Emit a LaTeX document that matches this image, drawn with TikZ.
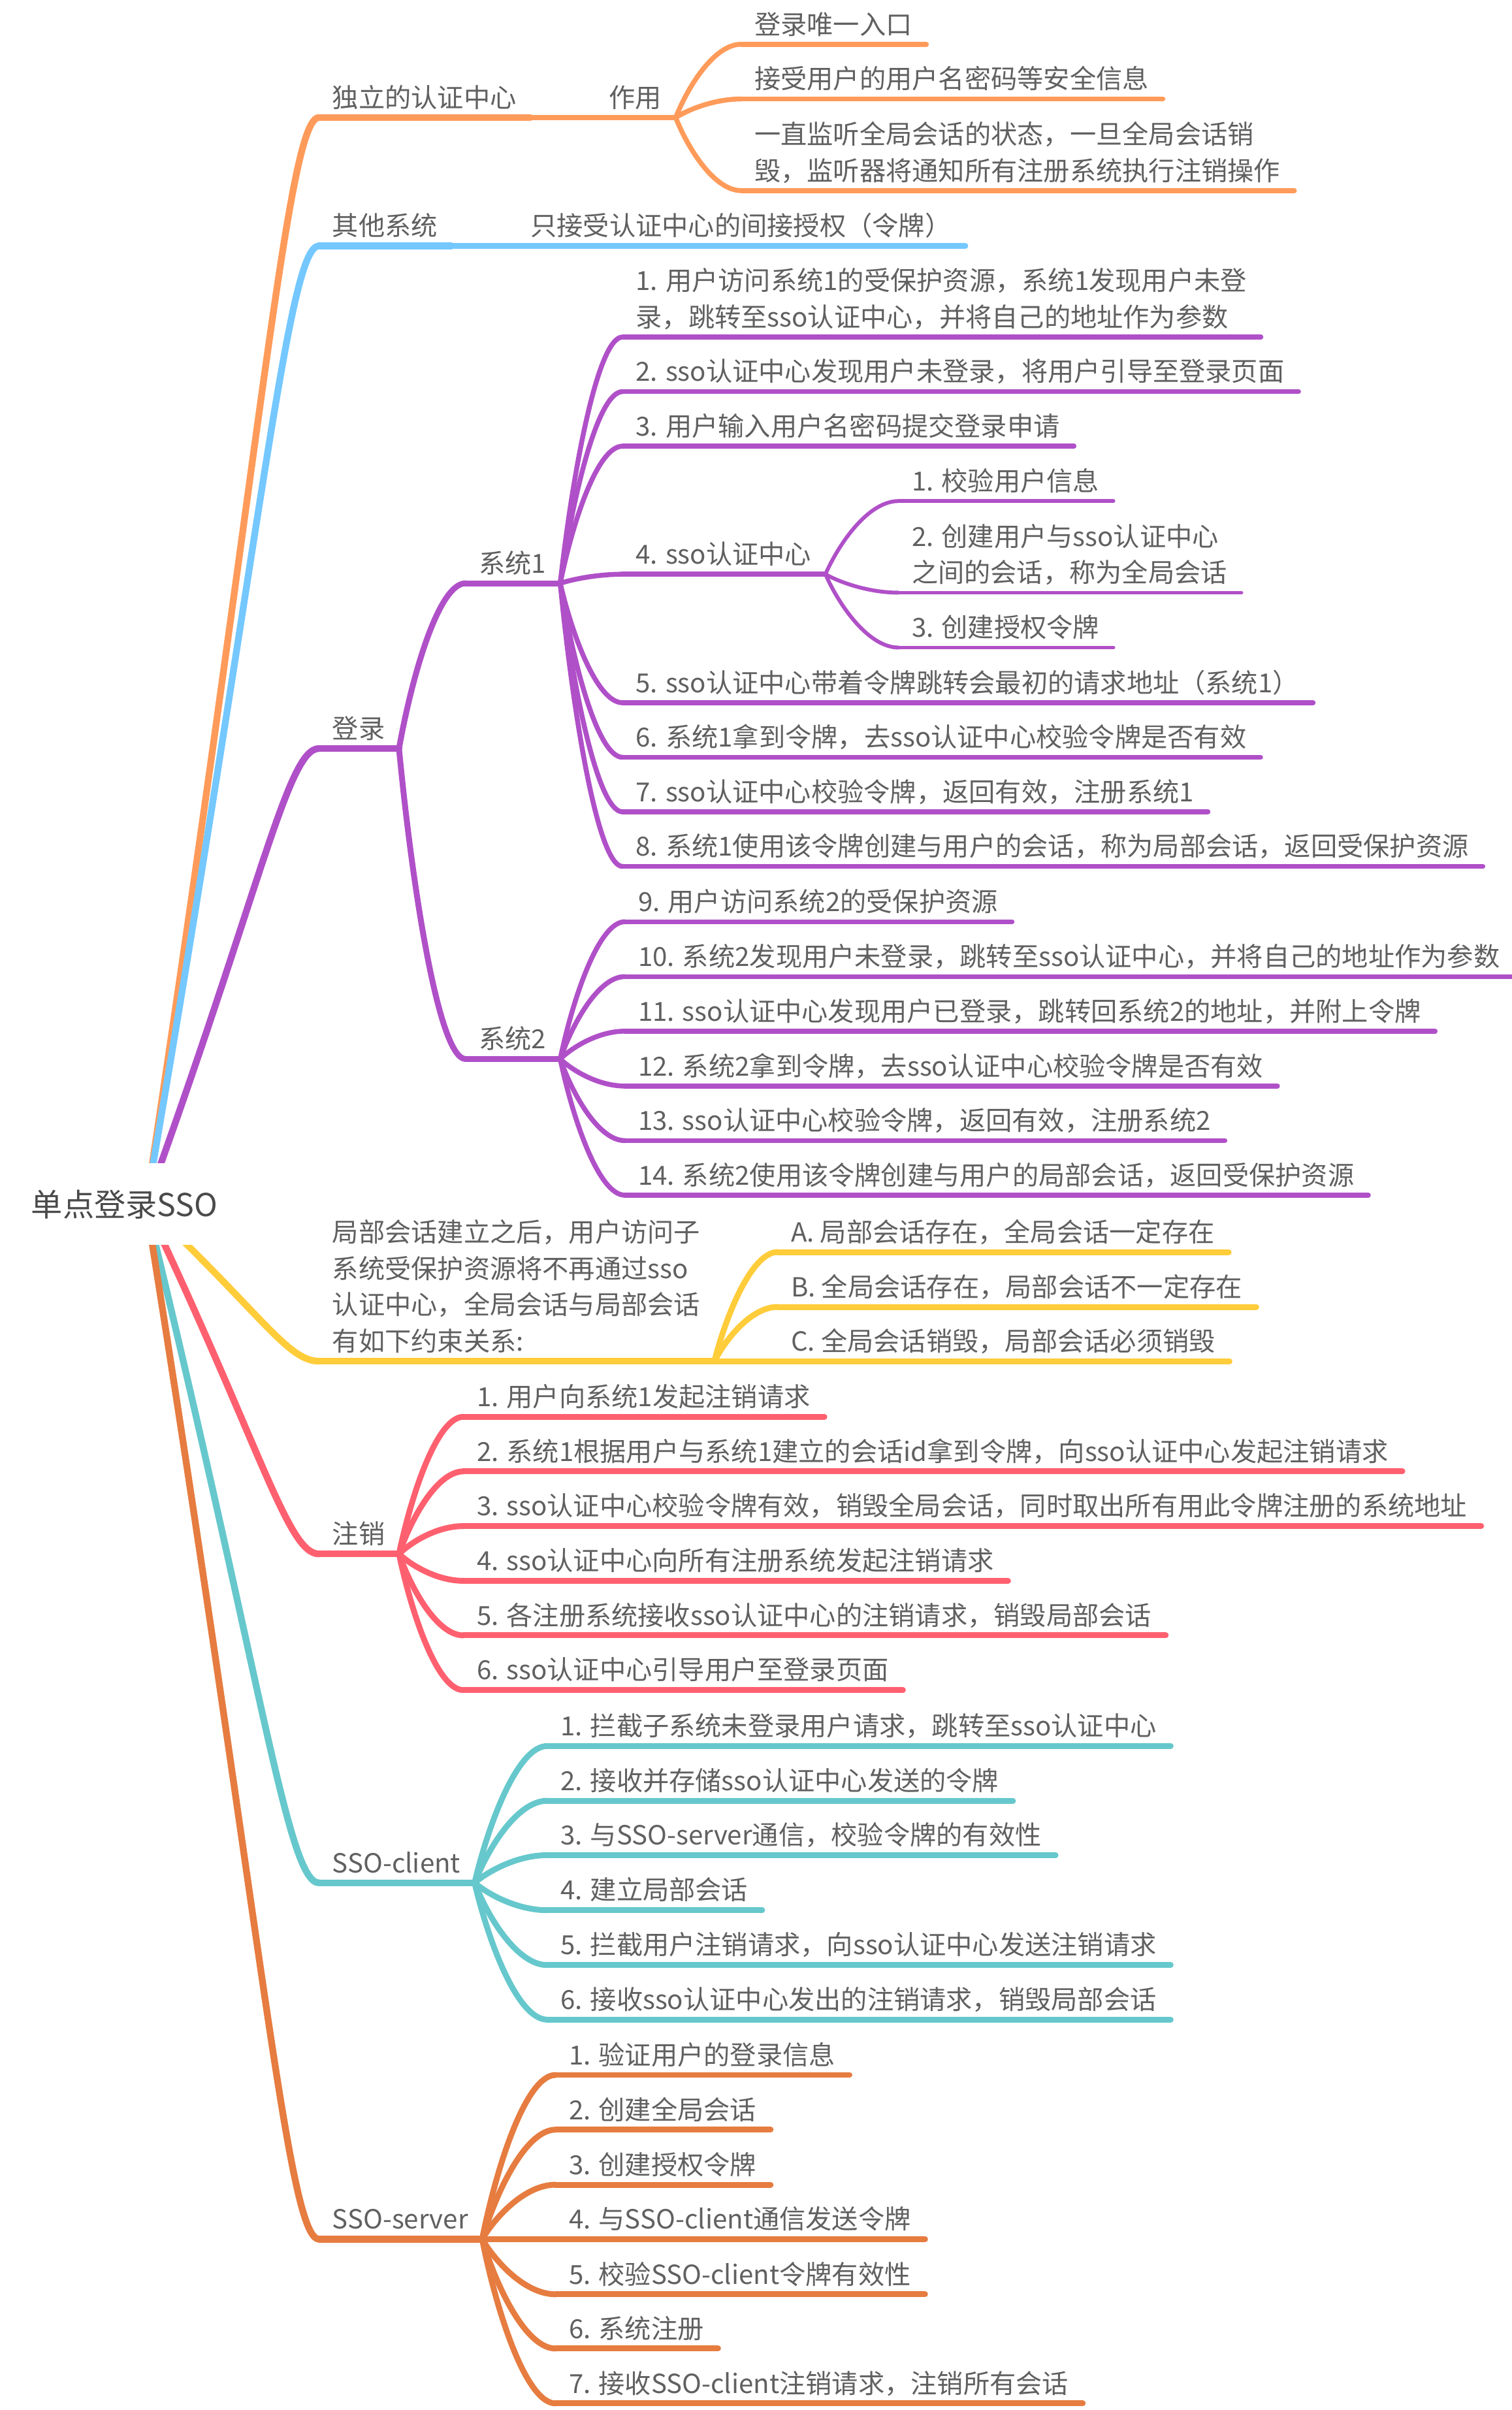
\documentclass[tikz,border=0pt]{standalone}
\usepackage{fontspec}
\setmainfont{Noto Sans CJK SC}
\usetikzlibrary{calc}
\definecolor{cOr}{HTML}{FF9B5A}
\definecolor{cBl}{HTML}{74C8FF}
\definecolor{cPu}{HTML}{B050C8}
\definecolor{cYe}{HTML}{FFCC3A}
\definecolor{cRe}{HTML}{FF606F}
\definecolor{cTe}{HTML}{66C8CC}
\definecolor{cBr}{HTML}{E67C40}
\definecolor{tgray}{HTML}{606060}
\definecolor{rgray}{HTML}{4A4A4A}
\tikzset{
  txt/.style={inner sep=0pt, anchor=base west, text=tgray, font=\fontsize{17.1}{23.6}\selectfont},
  lA/.style={line width=4.4pt, line cap=round},
  lB/.style={line width=3.8pt, line cap=round},
  lC/.style={line width=3.2pt, line cap=round},
  lD/.style={line width=2.5pt, line cap=round},
}
\newcommand\nd[4]{%
  \node[txt] (#1) at (#2,{6.7-#3}) {#4};
  \coordinate (#1-s) at ($(#1.base west)+(-8.5,-6.7)$);
  \coordinate (#1-e) at ($(#1.base east)+(9,-6.7)$);
}
\newcommand\two[2]{\vbox{\hbox{#1}\hbox{#2}}}
\newcommand\four[4]{\vbox{\hbox{#1}\hbox{#2}\hbox{#3}\hbox{#4}}}
\newcommand\ul[2]{\draw[#1] (#2-s) -- (#2-e);}
\newcommand\conn[3]{\draw[#1] let \p1=(#2), \p2=(#3) in (\p1) .. controls ({\x1+0.2*(\x2-\x1)},{\y1+0.45*(\y2-\y1)}) and ({\x2-0.4*(\x2-\x1)},\y2) .. (\p2);}
\newcommand\rconn[3]{\draw[#1] let \p1=(#2), \p2=(#3) in (\p1) .. controls ({\x1+0.67*(\x2-\x1)},{\y1+0.7*(\y2-\y1)}) and ({\x2-0.18*(\x2-\x1)},\y2) .. (\p2);}
\begin{document}
\begin{tikzpicture}[x=1pt,y=1pt]
\useasboundingbox (0,0) rectangle (983.3,-1568);
\fill[white] (0,0) rectangle (983.3,-1568);
% ---------- nodes ----------
\nd{n1}{216}{76.5}{独立的认证中心}
\nd{n1a}{396}{76.5}{作用}
\nd{n1a1}{490.7}{28.8}{登录唯一入口}
\nd{n1a2}{490.7}{64.4}{接受用户的用户名密码等安全信息}
\nd{n1a3}{490.7}{124}{\two{一直监听全局会话的状态，一旦全局会话销}{毁，监听器将通知所有注册系统执行注销操作}}
\nd{n2}{216}{160}{其他系统}
\nd{n2a}{345}{160}{只接受认证中心的间接授权（令牌）}
\nd{n3}{216}{487}{登录}
\nd{n31}{311.4}{379.5}{系统1}
\nd{n311}{413.5}{219.3}{\two{1. 用户访问系统1的受保护资源，系统1发现用户未登}{录，跳转至sso认证中心，并将自己的地址作为参数}}
\nd{n312}{413.5}{254.8}{2. sso认证中心发现用户未登录，将用户引导至登录页面}
\nd{n313}{413.5}{290.3}{3. 用户输入用户名密码提交登录申请}
\nd{n314}{413.5}{373.6}{4. sso认证中心}
\nd{n314a}{593}{326}{1. 校验用户信息}
\nd{n314b}{593}{385.6}{\two{2. 创建用户与sso认证中心}{之间的会话，称为全局会话}}
\nd{n314c}{593}{421.3}{3. 创建授权令牌}
\nd{n315}{413.5}{457.2}{5. sso认证中心带着令牌跳转会最初的请求地址（系统1）}
\nd{n316}{413.5}{492.7}{6. 系统1拿到令牌，去sso认证中心校验令牌是否有效}
\nd{n317}{413.5}{528.2}{7. sso认证中心校验令牌，返回有效，注册系统1}
\nd{n318}{413.5}{563.7}{8. 系统1使用该令牌创建与用户的会话，称为局部会话，返回受保护资源}
\nd{n32}{311.4}{689}{系统2}
\nd{n329}{415}{599.7}{9. 用户访问系统2的受保护资源}
\nd{n3210}{415}{635.4}{10. 系统2发现用户未登录，跳转至sso认证中心，并将自己的地址作为参数}
\nd{n3211}{415}{670.9}{11. sso认证中心发现用户已登录，跳转回系统2的地址，并附上令牌}
\nd{n3212}{415}{706.6}{12. 系统2拿到令牌，去sso认证中心校验令牌是否有效}
\nd{n3213}{415}{742.1}{13. sso认证中心校验令牌，返回有效，注册系统2}
\nd{n3214}{415}{777.6}{14. 系统2使用该令牌创建与用户的局部会话，返回受保护资源}
\nd{n4}{216}{885.6}{\four{局部会话建立之后，用户访问子}{系统受保护资源将不再通过sso}{认证中心，全局会话与局部会话}{有如下约束关系:}}
\nd{n4a}{514.5}{814.6}{A. 局部会话存在，全局会话一定存在}
\nd{n4b}{514.5}{850.3}{B. 全局会话存在，局部会话不一定存在}
\nd{n4c}{514.5}{885.6}{C. 全局会话销毁，局部会话必须销毁}
\nd{n5}{216}{1011}{注销}
\nd{n51}{310}{921.8}{1. 用户向系统1发起注销请求}
\nd{n52}{310}{957.3}{2. 系统1根据用户与系统1建立的会话id拿到令牌，向sso认证中心发起注销请求}
\nd{n53}{310}{992.9}{3. sso认证中心校验令牌有效，销毁全局会话，同时取出所有用此令牌注册的系统地址}
\nd{n54}{310}{1028.5}{4. sso认证中心向所有注册系统发起注销请求}
\nd{n55}{310}{1064}{5. 各注册系统接收sso认证中心的注销请求，销毁局部会话}
\nd{n56}{310}{1099.6}{6. sso认证中心引导用户至登录页面}
\nd{n6}{216}{1225}{SSO-client}
\nd{n61}{364.5}{1136}{1. 拦截子系统未登录用户请求，跳转至sso认证中心}
\nd{n62}{364.5}{1171.6}{2. 接收并存储sso认证中心发送的令牌}
\nd{n63}{364.5}{1207}{3. 与SSO-server通信，校验令牌的有效性}
\nd{n64}{364.5}{1242.8}{4. 建立局部会话}
\nd{n65}{364.5}{1278.5}{5. 拦截用户注销请求，向sso认证中心发送注销请求}
\nd{n66}{364.5}{1314}{6. 接收sso认证中心发出的注销请求，销毁局部会话}
\nd{n7}{216}{1456.8}{SSO-server}
\nd{n71}{370}{1350}{1. 验证用户的登录信息}
\nd{n72}{370}{1385.6}{2. 创建全局会话}
\nd{n73}{370}{1421.4}{3. 创建授权令牌}
\nd{n74}{370}{1456.8}{4. 与SSO-client通信发送令牌}
\nd{n75}{370}{1492.7}{5. 校验SSO-client令牌有效性}
\nd{n76}{370}{1528}{6. 系统注册}
\nd{n77}{370}{1563.7}{7. 接收SSO-client注销请求，注销所有会话}
% ---------- root connectors ----------
\coordinate (ro) at (95,-784);
\rconn{lA,cOr}{ro}{n1-s}
\rconn{lA,cBl}{ro}{n2-s}
\rconn{lA,cPu}{ro}{n3-s}
\rconn{lA,cYe}{ro}{n4-s}
\rconn{lA,cRe}{ro}{n5-s}
\rconn{lA,cTe}{ro}{n6-s}
\rconn{lA,cBr}{ro}{n7-s}
\node[fill=white, minimum width=150pt, minimum height=53pt, inner sep=0pt, text=rgray, font=\fontsize{20.5}{24}\selectfont] (root) at (81,-783.5) {单点登录SSO};
% ---------- branch 1 ----------
\ul{lA,cOr}{n1}
\conn{lB,cOr}{n1-e}{n1a-s}\ul{lB,cOr}{n1a}
\foreach \c in {n1a1,n1a2,n1a3}{\conn{lC,cOr}{n1a-e}{\c-s}\ul{lC,cOr}{\c}}
% ---------- branch 2 ----------
\ul{lA,cBl}{n2}
\conn{lB,cBl}{n2-e}{n2a-s}\ul{lB,cBl}{n2a}
% ---------- branch 3 ----------
\ul{lA,cPu}{n3}
\conn{lB,cPu}{n3-e}{n31-s}\ul{lB,cPu}{n31}
\conn{lB,cPu}{n3-e}{n32-s}\ul{lB,cPu}{n32}
\foreach \c in {n311,n312,n313,n314,n315,n316,n317,n318}{\conn{lC,cPu}{n31-e}{\c-s}\ul{lC,cPu}{\c}}
\foreach \c in {n314a,n314b,n314c}{\conn{lD,cPu}{n314-e}{\c-s}\ul{lD,cPu}{\c}}
\foreach \c in {n329,n3210,n3211,n3212,n3213,n3214}{\conn{lC,cPu}{n32-e}{\c-s}\ul{lC,cPu}{\c}}
% ---------- branch 4 ----------
\ul{lA,cYe}{n4}
\foreach \c in {n4a,n4b,n4c}{\conn{lB,cYe}{n4-e}{\c-s}\ul{lB,cYe}{\c}}
% ---------- branch 5 ----------
\ul{lA,cRe}{n5}
\foreach \c in {n51,n52,n53,n54,n55,n56}{\conn{lB,cRe}{n5-e}{\c-s}\ul{lB,cRe}{\c}}
% ---------- branch 6 ----------
\ul{lA,cTe}{n6}
\foreach \c in {n61,n62,n63,n64,n65,n66}{\conn{lB,cTe}{n6-e}{\c-s}\ul{lB,cTe}{\c}}
% ---------- branch 7 ----------
\ul{lA,cBr}{n7}
\foreach \c in {n71,n72,n73,n74,n75,n76,n77}{\conn{lB,cBr}{n7-e}{\c-s}\ul{lB,cBr}{\c}}
\end{tikzpicture}
\end{document}
